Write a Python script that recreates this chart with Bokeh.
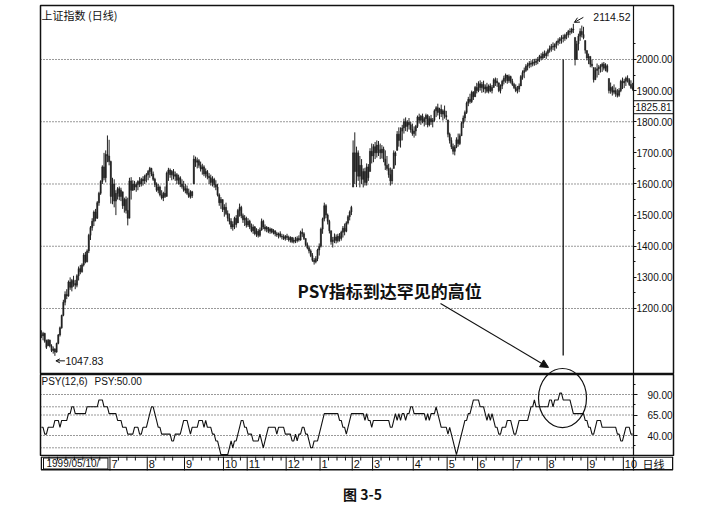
from bokeh.plotting import figure
from bokeh.layouts import column
from bokeh.models import (Range1d, LinearAxis, FixedTicker, NumeralTickFormatter,
                          Arrow, NormalHead, OpenHead, ColumnDataSource)
from bokeh.core.properties import value
from bokeh.embed import file_html
from bokeh.resources import INLINE

# ---------------- data ----------------
high = [
    1130, 1125, 1122, 1100, 1102, 1100, 1085, 1078, 1072, 1090,
    1118, 1142, 1180, 1228, 1255, 1262, 1290, 1300, 1295, 1305,
    1292, 1310, 1335, 1340, 1345, 1378, 1382, 1390, 1440, 1465,
    1490, 1515, 1520, 1545, 1575, 1612, 1660, 1700, 1708, 1756,
    1742, 1675, 1620, 1615, 1580, 1590, 1592, 1588, 1575, 1556,
    1560, 1556, 1620, 1622, 1612, 1610, 1605, 1612, 1622, 1620,
    1625, 1630, 1635, 1645, 1655, 1652, 1640, 1620, 1605, 1600,
    1595, 1580, 1575, 1592, 1640, 1652, 1650, 1645, 1648, 1640,
    1635, 1630, 1625, 1615, 1610, 1600, 1595, 1585, 1580, 1578,
    1692, 1688, 1685, 1680, 1672, 1665, 1660, 1650, 1645, 1635,
    1630, 1625, 1620, 1612, 1600, 1570, 1558, 1550, 1535, 1540,
    1515, 1505, 1490, 1480, 1495, 1500, 1520, 1537, 1530, 1505,
    1500, 1495, 1490, 1485, 1473, 1470, 1465, 1458, 1455, 1460,
    1489, 1485, 1470, 1465, 1462, 1460, 1458, 1455, 1450, 1446,
    1444, 1448, 1440, 1438, 1436, 1440, 1434, 1432, 1430, 1428,
    1430, 1432, 1435, 1450, 1457, 1445, 1425, 1412, 1402, 1390,
    1378, 1362, 1368, 1392, 1409, 1460, 1492, 1540, 1535, 1505,
    1485, 1450, 1430, 1441, 1438, 1440, 1442, 1450, 1465, 1473,
    1480, 1500, 1515, 1530, 1740, 1766, 1720, 1708, 1690, 1680,
    1650, 1652, 1666, 1664, 1715, 1730, 1728, 1735, 1740, 1738,
    1730, 1725, 1720, 1708, 1690, 1665, 1653, 1650, 1708, 1705,
    1770, 1782, 1782, 1790, 1810, 1814, 1805, 1812, 1800, 1794,
    1785, 1790, 1820, 1826, 1822, 1826, 1815, 1826, 1824, 1818,
    1822, 1812, 1840, 1850, 1858, 1845, 1855, 1840, 1852, 1835,
    1806, 1765, 1750, 1730, 1725, 1750, 1762, 1762, 1800, 1820,
    1836, 1865, 1880, 1890, 1900, 1898, 1915, 1925, 1930, 1933,
    1928, 1932, 1920, 1925, 1920, 1923, 1918, 1940, 1942, 1940,
    1925, 1920, 1935, 1948, 1955, 1950, 1952, 1948, 1938, 1925,
    1920, 1915, 1923, 1950, 1965, 1974, 1985, 1990, 1995, 1997,
    2000, 2002, 2003, 2008, 2015, 2020, 2025, 2029, 2026, 2035,
    2045, 2050, 2055, 2052, 2060, 2068, 2072, 2078, 2080, 2083,
    2088, 2095, 2100, 2102, 2114.52, 2071, 2060, 2083, 2100, 2109,
    2105, 2061, 2029, 2019, 2010, 2000, 1974, 1975, 1987, 1982,
    1985, 1990, 1992, 1988, 1985, 1939, 1926, 1915, 1920, 1910,
    1905, 1908, 1935, 1942, 1938, 1945, 1949, 1940, 1933, 1925,
]
low = [
    1105, 1098, 1090, 1070, 1080, 1075, 1060, 1055, 1047.83, 1058,
    1085, 1110, 1135, 1175, 1210, 1230, 1238, 1260, 1255, 1270,
    1262, 1268, 1290, 1310, 1315, 1335, 1345, 1348, 1378, 1420,
    1450, 1465, 1480, 1488, 1530, 1565, 1600, 1612, 1605, 1670,
    1660, 1537, 1535, 1525, 1500, 1550, 1548, 1545, 1520, 1508,
    1505, 1467, 1490, 1550, 1578, 1580, 1575, 1580, 1590, 1592,
    1595, 1600, 1605, 1612, 1620, 1625, 1610, 1590, 1575, 1570,
    1560, 1550, 1545, 1555, 1560, 1610, 1620, 1612, 1615, 1610,
    1600, 1598, 1590, 1585, 1575, 1570, 1565, 1555, 1553, 1555,
    1600, 1655, 1650, 1652, 1640, 1630, 1625, 1620, 1615, 1600,
    1595, 1592, 1588, 1580, 1560, 1530, 1520, 1510, 1495, 1500,
    1480, 1470, 1455, 1450, 1455, 1460, 1475, 1495, 1490, 1475,
    1465, 1460, 1462, 1455, 1445, 1440, 1435, 1430, 1428, 1430,
    1450, 1455, 1448, 1445, 1442, 1440, 1441, 1438, 1432, 1430,
    1425, 1428, 1422, 1420, 1418, 1420, 1415, 1412, 1410, 1409,
    1410, 1412, 1415, 1418, 1430, 1420, 1400, 1390, 1377, 1365,
    1350, 1341, 1345, 1352, 1370, 1396, 1440, 1480, 1490, 1470,
    1441, 1405, 1396, 1410, 1409, 1412, 1415, 1418, 1428, 1435,
    1445, 1470, 1483, 1500, 1590, 1600, 1590, 1610, 1589, 1600,
    1589, 1595, 1595, 1610, 1640, 1666, 1670, 1680, 1685, 1690,
    1680, 1682, 1670, 1645, 1643, 1620, 1595, 1600, 1650, 1660,
    1708, 1720, 1717, 1740, 1762, 1770, 1768, 1775, 1765, 1755,
    1749, 1755, 1780, 1794, 1790, 1795, 1785, 1790, 1782, 1785,
    1790, 1782, 1800, 1815, 1820, 1808, 1815, 1804, 1810, 1805,
    1750, 1730, 1712, 1695, 1692, 1715, 1720, 1725, 1755, 1780,
    1800, 1825, 1850, 1858, 1860, 1870, 1880, 1891, 1895, 1900,
    1893, 1895, 1891, 1893, 1891, 1895, 1891, 1910, 1915, 1912,
    1895, 1891, 1905, 1920, 1925, 1922, 1925, 1923, 1915, 1905,
    1895, 1891, 1895, 1915, 1935, 1940, 1960, 1965, 1972, 1975,
    1978, 1980, 1982, 1985, 1992, 1997, 2000, 2005, 2002, 2010,
    2022, 2025, 2030, 2028, 2035, 2045, 2050, 2051, 2055, 2060,
    2065, 2070, 2078, 2083, 2085, 1981, 2000, 2029, 2060, 2071,
    2065, 2019, 1997, 1985, 1975, 1974, 1926, 1935, 1942, 1950,
    1958, 1960, 1965, 1962, 1958, 1891, 1890, 1884, 1888, 1880,
    1878, 1880, 1895, 1905, 1908, 1915, 1926, 1915, 1905, 1900,
]
close = [
    1112, 1120, 1095, 1075, 1098, 1080, 1065, 1070, 1060, 1088,
    1115, 1138, 1178, 1220, 1245, 1240, 1285, 1268, 1290, 1280,
    1275, 1305, 1328, 1318, 1340, 1372, 1350, 1385, 1435, 1460,
    1480, 1510, 1490, 1540, 1570, 1608, 1655, 1620, 1695, 1690,
    1672, 1560, 1600, 1545, 1570, 1585, 1560, 1580, 1530, 1550,
    1515, 1490, 1610, 1580, 1600, 1590, 1598, 1608, 1600, 1615,
    1610, 1625, 1630, 1640, 1650, 1632, 1615, 1598, 1580, 1590,
    1565, 1555, 1570, 1560, 1635, 1645, 1630, 1640, 1625, 1630,
    1612, 1620, 1600, 1592, 1580, 1585, 1570, 1560, 1575, 1562,
    1680, 1670, 1675, 1660, 1648, 1655, 1632, 1640, 1625, 1620,
    1605, 1615, 1598, 1590, 1565, 1540, 1550, 1518, 1525, 1505,
    1490, 1480, 1462, 1470, 1490, 1470, 1515, 1525, 1498, 1485,
    1490, 1468, 1480, 1462, 1450, 1462, 1440, 1448, 1435, 1452,
    1480, 1462, 1455, 1460, 1448, 1455, 1445, 1450, 1440, 1436,
    1440, 1432, 1430, 1425, 1432, 1428, 1420, 1428, 1415, 1420,
    1418, 1425, 1420, 1445, 1440, 1425, 1405, 1395, 1385, 1370,
    1355, 1350, 1360, 1388, 1400, 1455, 1488, 1530, 1500, 1480,
    1450, 1415, 1420, 1430, 1418, 1432, 1425, 1445, 1458, 1448,
    1475, 1495, 1510, 1525, 1700, 1640, 1700, 1625, 1660, 1615,
    1640, 1605, 1655, 1620, 1705, 1690, 1720, 1700, 1725, 1710,
    1700, 1712, 1680, 1660, 1650, 1630, 1610, 1645, 1700, 1690,
    1760, 1740, 1770, 1780, 1800, 1785, 1798, 1790, 1775, 1762,
    1770, 1785, 1815, 1805, 1818, 1800, 1810, 1820, 1790, 1810,
    1800, 1805, 1835, 1845, 1830, 1840, 1825, 1835, 1820, 1815,
    1760, 1740, 1720, 1705, 1718, 1742, 1730, 1755, 1795, 1812,
    1830, 1860, 1872, 1865, 1895, 1880, 1910, 1900, 1922, 1910,
    1920, 1905, 1912, 1898, 1915, 1900, 1910, 1935, 1925, 1930,
    1900, 1915, 1930, 1940, 1950, 1932, 1945, 1930, 1920, 1910,
    1900, 1905, 1915, 1945, 1958, 1965, 1978, 1982, 1988, 1985,
    1992, 1990, 1995, 2000, 2010, 2005, 2018, 2012, 2020, 2030,
    2035, 2042, 2040, 2048, 2055, 2060, 2066, 2070, 2068, 2078,
    2080, 2090, 2088, 2098, 2095, 2000, 2050, 2075, 2090, 2080,
    2070, 2030, 2005, 2010, 1985, 1980, 1935, 1965, 1970, 1975,
    1978, 1985, 1972, 1980, 1962, 1900, 1910, 1895, 1900, 1890,
    1885, 1900, 1930, 1925, 1930, 1940, 1935, 1920, 1910, 1905,
]
# PSY(12): number of up days out of the last 12
psy_up_days = [
    6, 6, 5, 5, 6, 6, 6, 6, 7, 7,
    7, 6, 7, 7, 7, 7, 8, 8, 9, 9,
    8, 8, 8, 8, 8, 8, 8, 9, 9, 9,
    9, 9, 9, 9, 10, 10, 10, 9, 9, 9,
    8, 8, 8, 8, 8, 7, 7, 7, 6, 6,
    6, 5, 5, 5, 5, 6, 6, 6, 5, 5,
    6, 6, 6, 7, 8, 9, 9, 8, 7, 6,
    6, 5, 5, 5, 5, 5, 5, 4, 4, 5,
    5, 5, 5, 6, 7, 7, 7, 6, 5, 6,
    6, 6, 6, 7, 7, 7, 6, 7, 6, 6,
    6, 5, 5, 4, 4, 3, 2, 2, 2, 2,
    2, 3, 4, 3, 4, 4, 5, 6, 7, 7,
    6, 6, 5, 5, 5, 4, 4, 4, 4, 5,
    4, 3, 4, 5, 6, 6, 6, 6, 6, 5,
    6, 6, 6, 6, 5, 5, 5, 5, 4, 4,
    5, 4, 5, 5, 6, 6, 5, 5, 4, 3,
    3, 4, 4, 4, 5, 6, 7, 8, 8, 8,
    8, 8, 8, 8, 8, 8, 7, 7, 6, 6,
    5, 6, 7, 8, 8, 8, 8, 8, 8, 8,
    8, 7, 8, 7, 7, 6, 7, 7, 7, 7,
    7, 7, 7, 7, 7, 7, 6, 6, 7, 8,
    7, 8, 7, 8, 8, 7, 8, 8, 9, 9,
    8, 8, 8, 8, 8, 8, 8, 7, 8, 7,
    8, 8, 8, 9, 8, 7, 6, 6, 6, 6,
    5, 6, 5, 4, 3, 2, 3, 4, 5, 6,
    7, 7, 8, 8, 9, 10, 10, 10, 10, 9,
    9, 9, 8, 7, 8, 7, 8, 7, 6, 6,
    5, 5, 6, 6, 6, 7, 7, 7, 6, 5,
    5, 6, 7, 7, 7, 7, 7, 7, 8, 9,
    9, 10, 9, 9, 9, 9, 9, 9, 9, 9,
    10, 10, 9, 10, 10, 10, 11, 11, 10, 10,
    10, 10, 10, 9, 8, 8, 8, 8, 8, 8,
    8, 7, 7, 6, 6, 5, 5, 6, 7, 7,
    7, 6, 6, 6, 6, 6, 6, 6, 6, 6,
    5, 5, 4, 4, 5, 6, 6, 6, 5, 5,
]
psy_period = 12

month_labels = ["7", "8", "9", "10", "11", "12", "1", "2", "3", "4", "5", "6", "7", "8", "9", "10"]
month_start = [41, 63, 85, 108, 122, 145, 165, 184, 196, 220, 240, 258, 279, 299, 323, 344]
start_date_label = "1999/05/10/"

price_ticks = [1200, 1300, 1400, 1500, 1600, 1700, 1800, 1900, 2000]
price_minor_ticks = [1250, 1350, 1450, 1550, 1650, 1750, 1850, 1950, 2050]
price_grid = [1200, 1400, 1600, 1800, 2000]
psy_ticks = [40, 65, 90]
psy_minor_ticks = [27.5, 52.5, 77.5, 102.5]
psy_grid = [90, 75, 65, 40, 25]

last_price = 1825.81
cursor_idx = 308            # vertical cursor line
cursor_top, cursor_bottom = 2000, 1049
circle_idx, circle_psy = 307.6, 85.7   # circled PSY peak

title_main = "上证指数 (日线)"
title_psy = "PSY(12,6)"
title_psy_value = "PSY:50.00"
note_text = "PSY指标到达罕见的高位"
caption = "图 3-5"
period_label = "日线"

# ---------------- geometry ----------------
N = len(close)
BARS_PX = 593            # width of the bar area
LABEL_PX = 40            # width of the right label column
FW = BARS_PX + LABEL_PX
XU = N / BARS_PX         # index units per pixel
LEFT, TOP, RIGHT = 40, 5, 8
MAIN_H, PSY_H, STRIP_H, CAP_H = 369, 82, 14, 34
price_lo, price_hi = 987.9, 2173.5
PU = (price_hi - price_lo) / MAIN_H      # price per pixel
psy_lo, psy_hi = 14.4, 114.4
QU = (psy_hi - psy_lo) / PSY_H           # psy per pixel
x_sep = N - 0.5
xr = Range1d(-0.5, x_sep + LABEL_PX * XU)

AXIS_FONT = "Liberation Sans"
CJK = "Noto Sans CJK SC"
INK = "#111111"


def make_fig(h, yr, top=0, outline=True):
    f = figure(frame_width=FW, frame_height=h, x_range=xr, y_range=yr,
               output_backend="svg", toolbar_location=None,
               x_axis_location=None, y_axis_location=None,
               min_border_left=LEFT, min_border_right=RIGHT, min_border_top=top, min_border_bottom=0)
    f.grid.visible = False
    f.outline_line_color = INK if outline else None
    f.outline_line_width = 1.5
    f.background_fill_color = "white"
    f.border_fill_color = "white"
    return f


# ---------------- main price panel ----------------
p1 = make_fig(MAIN_H, Range1d(price_lo, price_hi), top=TOP)
idx = list(range(N))
opens = [close[0]] + close[:-1]
opens = [min(max(o, l), h) for o, l, h in zip(opens, low, high)]
src = ColumnDataSource(dict(x=idx, high=high, low=low, open=opens, close=close))

p1.segment(x0=[-0.5] * len(price_grid), x1=[x_sep] * len(price_grid), y0=price_grid, y1=price_grid,
           line_color="#333333", line_dash="1 2", line_width=1)
p1.segment(x0="x", y0="low", x1="x", y1="high", source=src, line_color="#222222", line_width=1)
p1.vbar(x="x", bottom="open", top="close", width=0.7, source=src,
        fill_color="#222222", line_color="#222222", line_width=0.5)

ax1 = LinearAxis(fixed_location=x_sep,
                 ticker=FixedTicker(ticks=price_ticks, minor_ticks=price_minor_ticks),
                 formatter=NumeralTickFormatter(format="0.00"),
                 axis_line_color=INK, axis_line_width=1.2,
                 major_tick_line_color=INK, minor_tick_line_color=INK,
                 major_tick_in=0, major_tick_out=3, minor_tick_in=0, minor_tick_out=2,
                 major_label_standoff=0, major_label_text_font=AXIS_FONT,
                 major_label_text_font_size="10px", major_label_text_color=INK)
p1.add_layout(ax1, "right")

# last price box
p1.segment(x0=[x_sep, x_sep], x1=[xr.end, xr.end],
           y0=[last_price, last_price + 13 * PU], y1=[last_price, last_price + 13 * PU],
           line_color=INK, line_width=1)
p1.text(x=[x_sep], y=[last_price + 6.5 * PU], text=[f"{last_price:.2f}"], x_offset=2,
        text_font=value(AXIS_FONT), text_font_size="10px", text_color=INK,
        text_align="left", text_baseline="middle")

p1.text(x=[-0.5], y=[price_hi], text=[title_main], x_offset=1, y_offset=1,
        text_font=value(CJK), text_font_size="11px", text_color=INK,
        text_align="left", text_baseline="top")

# peak / low annotations
peak_idx = high.index(max(high))
low_idx = low.index(min(low))
p1.text(x=[peak_idx + 20 * XU], y=[max(high) + 6.5 * PU], text=[f"{max(high):.2f}"],
        text_font=value(AXIS_FONT), text_font_size="10.5px", text_color=INK,
        text_align="left", text_baseline="middle")
p1.add_layout(Arrow(end=OpenHead(size=5, line_width=1, line_color=INK),
                    x_start=peak_idx + 10 * XU, y_start=max(high) + 6.5 * PU,
                    x_end=peak_idx + 1 * XU, y_end=max(high) + 1.5 * PU,
                    line_width=1, line_color=INK))
p1.text(x=[low_idx + 10.5 * XU], y=[min(low) - 5 * PU], text=[f"{min(low):.2f}"],
        text_font=value(AXIS_FONT), text_font_size="10.5px", text_color=INK,
        text_align="left", text_baseline="middle")
p1.add_layout(Arrow(end=OpenHead(size=4, line_width=1, line_color=INK),
                    x_start=low_idx + 10 * XU, y_start=min(low) - 5 * PU,
                    x_end=low_idx + 1 * XU, y_end=min(low) - 5 * PU,
                    line_width=1, line_color=INK))

# cursor line and note
p1.segment(x0=[cursor_idx], x1=[cursor_idx], y0=[cursor_top], y1=[cursor_bottom],
           line_color=INK, line_width=1.3)
note_idx, note_price = 151.2, 1258
p1.text(x=[note_idx], y=[note_price], text=[note_text],
        text_font=value(CJK), text_font_size="17px", text_font_style="bold", text_color=INK,
        text_align="left", text_baseline="middle")
p1.add_layout(Arrow(end=NormalHead(size=8, fill_color=INK, line_color=INK),
                    x_start=note_idx + 143 * XU, y_start=note_price - 13 * PU,
                    x_end=circle_idx - 14 * XU, y_end=note_price - 77 * PU,
                    line_width=1.2, line_color=INK))
# upper part of the circle (it crosses the panel border)
circle_price = price_lo - (397.5 - 374) * PU
p1.ellipse(x=[circle_idx], y=[circle_price], width=48 * XU, height=59 * PU,
           fill_color=None, line_color=INK, line_width=1.2)

# ---------------- PSY panel ----------------
p2 = make_fig(PSY_H, Range1d(psy_lo, psy_hi))
psy = [k * 100 / psy_period for k in psy_up_days]
p2.segment(x0=[-0.5] * len(psy_grid), x1=[x_sep] * len(psy_grid), y0=psy_grid, y1=psy_grid,
           line_color="#333333", line_dash="1 2", line_width=1)
p2.line(idx, psy, line_color=INK, line_width=1.1)
ax2 = LinearAxis(fixed_location=x_sep,
                 ticker=FixedTicker(ticks=psy_ticks, minor_ticks=psy_minor_ticks),
                 formatter=NumeralTickFormatter(format="0.00"),
                 axis_line_color=INK, axis_line_width=1.2,
                 major_tick_line_color=INK, minor_tick_line_color=INK,
                 major_tick_in=0, major_tick_out=4, minor_tick_in=0, minor_tick_out=2,
                 major_label_standoff=10, major_label_text_font=AXIS_FONT,
                 major_label_text_font_size="10px", major_label_text_color=INK)
p2.add_layout(ax2, "right")
p2.text(x=[-0.5], y=[psy_hi - 7 * QU], text=[title_psy], x_offset=1,
        text_font=value(AXIS_FONT), text_font_size="10px", text_color=INK,
        text_align="left", text_baseline="middle")
p2.text(x=[-0.5], y=[psy_hi - 7 * QU], text=[title_psy_value], x_offset=54,
        text_font=value(AXIS_FONT), text_font_size="10px", text_color=INK,
        text_align="left", text_baseline="middle")
p2.ellipse(x=[circle_idx], y=[circle_psy], width=48 * XU, height=59 * QU,
           fill_color=None, line_color=INK, line_width=1.2)

# ---------------- date strip + caption (y in pixels) ----------------
p3 = make_fig(STRIP_H + CAP_H, Range1d(0, STRIP_H + CAP_H), outline=False)
s0, s1 = CAP_H, CAP_H + STRIP_H
p3.quad(left=[-0.5 + 0.75 * XU], right=[xr.end - 0.75 * XU], bottom=[s0 + 0.75], top=[s1 - 0.5],
        fill_color=None, line_color=INK, line_width=1.5)
seps = [m - 0.5 for m in month_start]
p3.segment(x0=seps, x1=seps, y0=[s0] * len(seps), y1=[s1] * len(seps), line_color=INK, line_width=1)
p3.text(x=seps, y=[s0 + 6.5] * len(seps), text=month_labels, x_offset=1.5,
        text_font=value(AXIS_FONT), text_font_size="11px", text_color=INK,
        text_align="left", text_baseline="middle")
bounds = [0] + month_start + [N]
week_ticks = []
for a, b in zip(bounds[:-1], bounds[1:]):
    week_ticks += [t - 0.5 for t in range(a + 5, b - 2, 5)]
p3.segment(x0=week_ticks, x1=week_ticks, y0=[s1] * len(week_ticks), y1=[s1 - 4] * len(week_ticks),
           line_color=INK, line_width=1)
p3.quad(left=[-0.5 + 3 * XU], right=[month_start[0] - 0.5 - 2 * XU], bottom=[s0 + 1.5], top=[s1 - 1.5],
        fill_color=None, line_color=INK, line_width=1)
p3.text(x=[-0.5], y=[s0 + 7], text=[start_date_label], x_offset=6,
        text_font=value(AXIS_FONT), text_font_size="10px", text_color=INK,
        text_align="left", text_baseline="middle")
p3.segment(x0=[x_sep], x1=[x_sep], y0=[s0], y1=[s1], line_color=INK, line_width=1.2)
p3.text(x=[x_sep + LABEL_PX * XU / 2], y=[s0 + 7], text=[period_label],
        text_font=value(CJK), text_font_size="11px", text_color=INK,
        text_align="center", text_baseline="middle")
p3.text(x=[322 * XU - 0.5], y=[s1 - 37], text=[caption], text_font=value(CJK), text_font_size="14px",
        text_font_style="bold", text_color=INK, text_align="center", text_baseline="middle")

layout = column(p1, p2, p3, spacing=0)
open("out.html", "w").write(file_html(layout, INLINE))
